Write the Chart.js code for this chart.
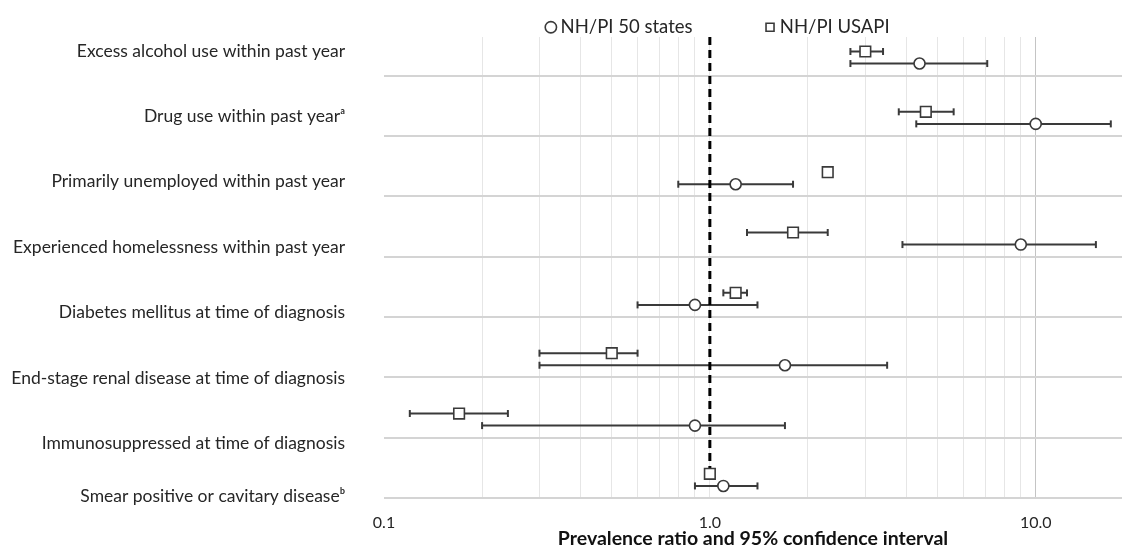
<!DOCTYPE html>
<html>
<head>
<meta charset="utf-8">
<script src="https://cdn.jsdelivr.net/npm/chart.js"></script>
<style>
  html, body { margin: 0; padding: 0; background: #fff; }
  #wrap { width: 1122px; height: 550px; position: relative; }
</style>
</head>
<body>
<div id="wrap"><canvas id="forestChart"></canvas></div>
<script>
// Outcomes, top to bottom
const categories = [
    'Excess alcohol use within past year',
    'Drug use within past year\u1d43',
    'Primarily unemployed within past year',
    'Experienced homelessness within past year',
    'Diabetes mellitus at time of diagnosis',
    'End-stage renal disease at time of diagnosis',
    'Immunosuppressed at time of diagnosis',
    'Smear positive or cavitary disease\u1d47'
];

// NH/PI 50 states: prevalence ratio and 95% CI
const states50Pr = [4.4, 10.0, 1.2, 9.0, 0.9, 1.7, 0.9, 1.1];
const states50Lo = [2.7, 4.3, 0.8, 3.9, 0.6, 0.3, 0.2, 0.9];
const states50Hi = [7.1, 17.0, 1.8, 15.3, 1.4, 3.5, 1.7, 1.4];

// NH/PI USAPI: prevalence ratio and 95% CI
const usapiPr = [3.0, 4.6, 2.3, 1.8, 1.2, 0.5, 0.17, 1.0];
const usapiLo = [2.7, 3.8, 2.25, 1.3, 1.1, 0.3, 0.12, 0.98];
const usapiHi = [3.4, 5.6, 2.35, 2.3, 1.3, 0.6, 0.24, 1.02];

// x axis tick labels (decades only)
const tickLabels = ['0.1', '1.0', '10.0'];
const seriesNames = ['NH/PI 50 states', 'NH/PI USAPI'];

// layout helpers (row offsets inside each band, label rows)
const USAPI_OFFSET = 0.6;
const STATES_OFFSET = 0.8;
const LABEL_POS = [0.6, 1.67, 2.76, 3.84, 4.93, 6.01, 7.09, 7.98];

const INK = '#3a3a3a';
const TEXT = '#262626';

function markerData(values, offset) {
    return values.map((v, i) => ({ x: v, y: i + offset }));
}

// segments separated by empty points so the line breaks between rows
function ciData(lo, hi, offset) {
    const pts = [];
    lo.forEach((l, i) => {
        pts.push({ x: l, y: i + offset });
        pts.push({ x: hi[i], y: i + offset });
        pts.push({ x: null, y: null });
    });
    return pts;
}

const ciStyle = {
    type: 'line',
    borderColor: INK,
    borderWidth: 2,
    pointStyle: 'line',
    pointRotation: 90,
    pointRadius: 3.5,
    pointBorderWidth: 2,
    pointBorderColor: INK,
    spanGaps: false
};

// the category labels hang left of the padded layout box, so don't clip them
const unclipLabels = {
    id: 'unclipLabels',
    afterLayout(chart) { chart.scales.y.left = 0; }
};

const ctx = document.getElementById('forestChart').getContext('2d');
new Chart(ctx, {
    type: 'scatter',
    plugins: [unclipLabels],
    data: {
        datasets: [
            {
                label: seriesNames[0],
                data: markerData(states50Pr, STATES_OFFSET),
                pointStyle: 'circle',
                pointRadius: 5.5,
                pointBackgroundColor: '#fff',
                pointBorderColor: INK,
                pointBorderWidth: 1.6
            },
            {
                label: seriesNames[1],
                data: markerData(usapiPr, USAPI_OFFSET),
                pointStyle: 'rect',
                pointRadius: 7.5,
                pointBackgroundColor: '#fff',
                pointBorderColor: INK,
                pointBorderWidth: 1.6
            },
            {
                label: 'ref',
                type: 'line',
                data: [{ x: 1, y: 0.36 }, { x: 1, y: 7.55 }],
                borderColor: '#000',
                borderWidth: 3,
                borderDash: [8, 5],
                pointRadius: 0
            },
            Object.assign({ label: 'ci50', data: ciData(states50Lo, states50Hi, STATES_OFFSET) }, ciStyle),
            Object.assign({ label: 'ciUsapi', data: ciData(usapiLo, usapiHi, USAPI_OFFSET) }, ciStyle)
        ]
    },
    options: {
        responsive: true,
        maintainAspectRatio: false,
        animation: false,
        layout: {
            autoPadding: false,
            padding: { left: 318, right: 0, top: -59, bottom: 0 }
        },
        plugins: {
            tooltip: { enabled: false },
            legend: {
                position: 'top',
                maxHeight: 96,
                labels: {
                    filter: (item) => item.datasetIndex < 2,
                    usePointStyle: true,
                    boxWidth: 1,
                    boxHeight: 8,
                    padding: 77,
                    color: TEXT,
                    font: { family: 'Lato', size: 18.5 }
                }
            }
        },
        scales: {
            x: {
                type: 'logarithmic',
                min: 0.1,
                max: 18.4,
                afterBuildTicks: (scale) => {
                    const t = [];
                    [0.1, 1].forEach(d => {
                        for (let k = 1; k <= 9; k++) t.push({ value: +(d * k).toFixed(2) });
                    });
                    t.push({ value: 10 });
                    scale.ticks = t;
                },
                afterFit: (scale) => {
                    scale.height = 52;
                    scale.paddingLeft = 0;
                    scale.paddingRight = 0;
                },
                border: { display: false },
                grid: {
                    drawTicks: false,
                    lineWidth: 1,
                    color: (c) => {
                        const v = c.tick && c.tick.value;
                        if (v === 0.1) return 'rgba(0,0,0,0)';
                        if (v === 10) return '#c4c4c4';
                        return '#e6e6e6';
                    }
                },
                ticks: {
                    autoSkip: false,
                    maxRotation: 0,
                    padding: 15,
                    color: TEXT,
                    font: { family: 'Lato', size: 16 },
                    callback: (v) => {
                        const i = [0.1, 1, 10].indexOf(v);
                        return i >= 0 ? tickLabels[i] : '';
                    }
                },
                title: {
                    display: true,
                    text: 'Prevalence ratio and 95% confidence interval',
                    color: '#111',
                    padding: { top: 0, bottom: 0 },
                    font: { family: 'Lato', size: 19.5, weight: 'bold' }
                }
            },
            y: {
                type: 'linear',
                reverse: true,
                min: 0.36,
                max: 8,
                afterBuildTicks: (scale) => {
                    scale.ticks = LABEL_POS.map(v => ({ value: v }));
                },
                afterFit: (scale) => {
                    scale.width = 66;
                    scale.paddingTop = 0;
                    scale.paddingBottom = 0;
                },
                border: { display: false },
                grid: { display: false, drawTicks: false },
                ticks: {
                    autoSkip: false,
                    padding: 39,
                    color: TEXT,
                    font: { family: 'Lato', size: 17.5 },
                    callback: (v, i) => categories[i]
                }
            },
            yGrid: {
                type: 'linear',
                position: 'right',
                reverse: true,
                min: 0.36,
                max: 8,
                afterBuildTicks: (scale) => {
                    scale.ticks = categories.map((c, i) => ({ value: i + 1 }));
                },
                afterFit: (scale) => {
                    scale.width = 0;
                    scale.paddingTop = 0;
                    scale.paddingBottom = 0;
                },
                border: { display: false },
                grid: { color: '#d4d4d4', lineWidth: 2, drawTicks: false },
                ticks: { display: false }
            }
        }
    }
});
</script>
</body>
</html>
